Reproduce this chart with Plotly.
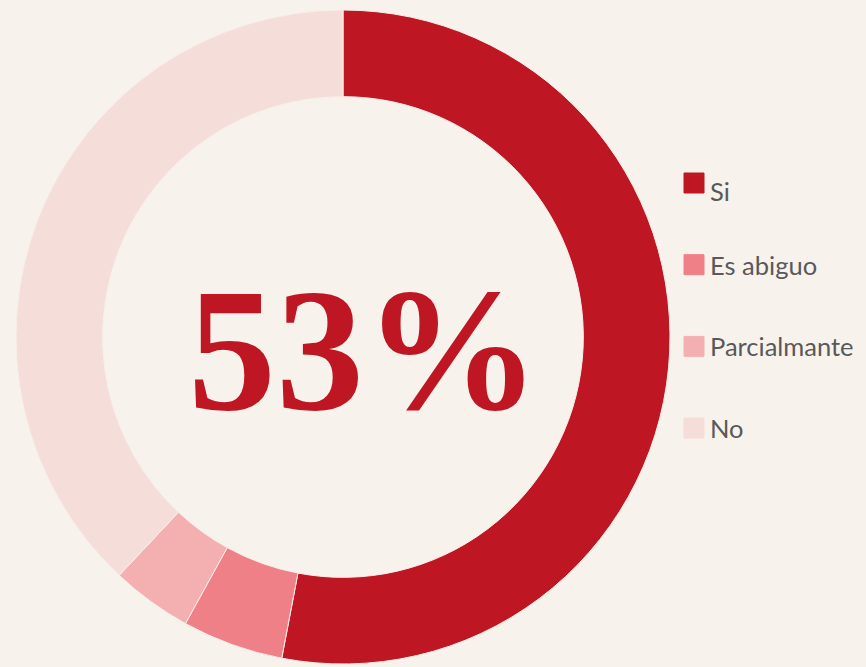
import plotly.graph_objects as go

labels = ["Si", "Es abiguo", "Parcialmante", "No"]
values = [53, 5, 4, 38]
colors = ["#BE1622", "#F08088", "#F4B0B1", "#F5DDDA"]
center_text = "53%"

W, H = 866, 667
BG = "#F8F2EC"
cx, cy, r = 343, 337, 327

fig = go.Figure(go.Pie(
    labels=labels, values=values, hole=0.735, sort=False, direction="clockwise",
    rotation=0, textinfo="none", hoverinfo="label+percent", showlegend=False,
    marker=dict(colors=colors, line=dict(color="#F8EFEA", width=1)),
    domain=dict(x=[(cx - r) / W, (cx + r) / W], y=[1 - (cy + r) / H, 1 - (cy - r) / H]),
))
fig.add_annotation(text="<b>" + center_text + "</b>", x=364 / W, y=1 - 350 / H,
                   xref="paper", yref="paper", showarrow=False,
                   xanchor="center", yanchor="middle",
                   font=dict(family="Liberation Serif", size=176, color="#BE1622"))

# manual legend (large squares, wide spacing as in the reference)
leg_x0, leg_top, leg_step, sq = 684, 173, 81.7, 20
text_dy = [8, 0, 0, 0]
for i, (lab, col) in enumerate(zip(labels, colors)):
    top = leg_top + i * leg_step
    fig.add_shape(type="rect", xref="paper", yref="paper",
                  x0=leg_x0 / W, x1=(leg_x0 + sq) / W,
                  y0=1 - (top + sq) / H, y1=1 - top / H,
                  fillcolor=col, line=dict(color=col, width=1), layer="above")
    fig.add_annotation(text=lab, x=(leg_x0 + sq + 4) / W,
                       y=1 - (top + sq / 2 + text_dy[i]) / H,
                       xref="paper", yref="paper", showarrow=False,
                       xanchor="left", yanchor="middle",
                       font=dict(family="Lato", size=25.5, color="#595959"))

fig.update_layout(
    width=W, height=H, margin=dict(l=0, r=0, t=0, b=0),
    paper_bgcolor=BG, plot_bgcolor=BG, showlegend=False,
)
fig.write_html("out.html", config={"displayModeBar": False},
               post_script="document.body.style.margin='0';document.body.style.background='%s';" % BG)
